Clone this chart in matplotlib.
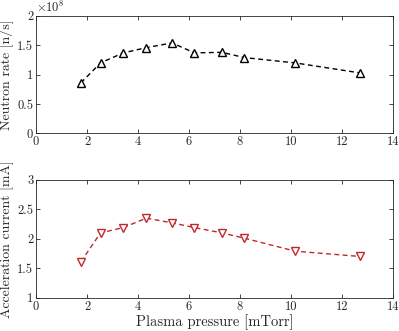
import matplotlib
matplotlib.use("Agg")
import matplotlib.pyplot as plt
from matplotlib.ticker import FormatStrFormatter

plt.rcParams['font.family'] = 'serif'
plt.rcParams['font.serif'] = ['cmr10']
plt.rcParams['mathtext.fontset'] = 'cm'
plt.rcParams['axes.unicode_minus'] = False

# data
pressure = [1.76, 2.53, 3.42, 4.33, 5.34, 6.21, 7.29, 8.17, 10.16, 12.7]
neutron_rate = [0.86, 1.20, 1.37, 1.46, 1.54, 1.37, 1.38, 1.29, 1.20, 1.03]  # x 1e8 n/s
accel_current = [1.61, 2.10, 2.19, 2.35, 2.27, 2.19, 2.10, 2.01, 1.79, 1.70]  # mA

grey = '#262626'
red = '#c0282d'

fig = plt.figure(figsize=(3.99, 3.31), dpi=100)
ax1 = fig.add_axes([0.0902, 0.597, 0.895, 0.355])
ax2 = fig.add_axes([0.0902, 0.1006, 0.895, 0.356])

ax1.plot(pressure, neutron_rate, color='black', lw=1.0, ls=(0, (3.5, 2.5)),
         marker='^', markersize=6, markerfacecolor='white', markeredgewidth=1.0)
ax2.plot(pressure, accel_current, color=red, lw=1.0, ls=(0, (3.5, 2.5)),
         marker='v', markersize=6, markerfacecolor='white', markeredgewidth=1.0)

ax1.set_ylim(0, 2)
ax1.set_yticks([0, 0.5, 1, 1.5, 2])
ax1.set_ylabel('Neutron rate [n/s]', fontsize=10, color=grey, labelpad=2)
ax1.text(0, 1.005, r'$\times10^{8}$', transform=ax1.transAxes, fontsize=9,
         color=grey, va='bottom', ha='left')

ax2.set_ylim(1, 3)
ax2.set_yticks([1, 1.5, 2, 2.5, 3])
ax2.set_ylabel('Acceleration current [mA]', fontsize=10, color=grey, labelpad=2)
ax2.set_xlabel('Plasma pressure [mTorr]', fontsize=10.5, color=grey, labelpad=1)

for ax in (ax1, ax2):
    ax.set_xlim(0, 14)
    ax.set_xticks([0, 2, 4, 6, 8, 10, 12, 14])
    ax.yaxis.set_major_formatter(FormatStrFormatter('%g'))
    ax.tick_params(direction='in', top=True, right=True, labelsize=9,
                   colors=grey, length=3, width=0.6, pad=2)
    for s in ax.spines.values():
        s.set_color(grey)
        s.set_linewidth(0.6)

fig.savefig('out.png', dpi=100)
